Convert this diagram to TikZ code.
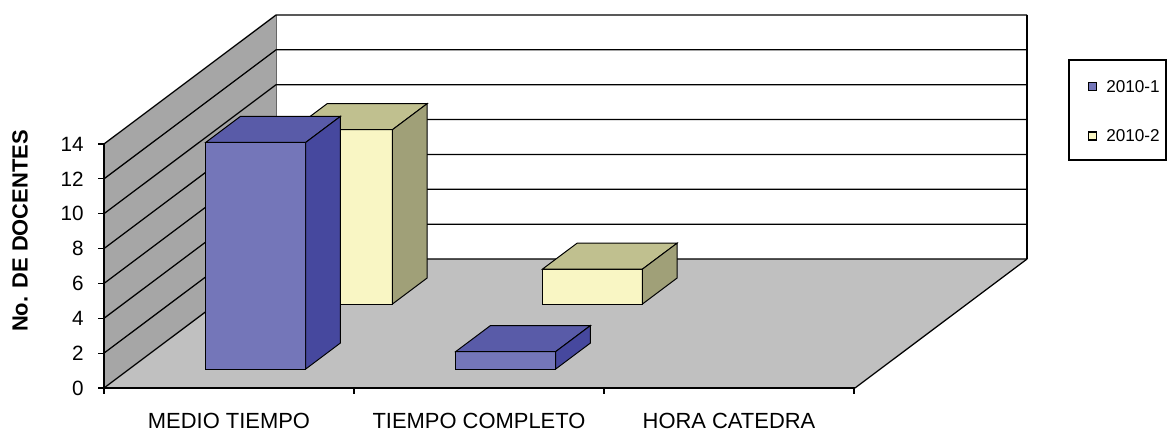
\documentclass[tikz,border=0pt]{standalone}
\usepackage{fontspec}
\setmainfont{Liberation Sans}
\usepackage{tikz}
\usetikzlibrary{positioning}
\definecolor{bluefront}{RGB}{116,118,185}
\definecolor{bluetop}{RGB}{89,91,168}
\definecolor{blueside}{RGB}{70,72,158}
\definecolor{yelfront}{RGB}{249,246,196}
\definecolor{yeltop}{RGB}{192,192,143}
\definecolor{yelside}{RGB}{160,160,120}
\definecolor{wallgray}{RGB}{166,166,166}
\definecolor{floorgray}{RGB}{192,192,192}
\tikzstyle{gridline} = [line width=0.9pt]
\tikzstyle{barline} = [line width=0.7pt, draw=black]
\tikzstyle{ticklabel} = [inner sep=0pt, font=\fontsize{14.7}{17}\selectfont]
\tikzstyle{catlabel} = [inner sep=0pt, font=\fontsize{15.6}{18}\selectfont]
\tikzstyle{legendtext} = [inner sep=0pt, anchor=west, font=\fontsize{12.2}{14}\selectfont]
\tikzstyle{legendmark} = [draw=black, line width=0.8pt, minimum size=0.2cm, inner sep=0pt]
\def\u{17.43}
\newcommand{\colbar}[6]{%
	\filldraw[barline, fill=#4] (#1,0,#2) -- (#1+100,0,#2) -- (#1+100,#3*\u,#2) -- (#1,#3*\u,#2) -- cycle;
	\filldraw[barline, fill=#5] (#1,#3*\u,#2) -- (#1+100,#3*\u,#2) -- (#1+100,#3*\u,#2+26) -- (#1,#3*\u,#2+26) -- cycle;
	\filldraw[barline, fill=#6] (#1+100,0,#2) -- (#1+100,0,#2+26) -- (#1+100,#3*\u,#2+26) -- (#1+100,#3*\u,#2) -- cycle;
}

\begin{document}
\begin{tikzpicture}[x=0.025cm, y=0.025cm, z={(0.033333cm,0.025cm)}]
	\useasboundingbox (-104,-44) rectangle (1064,388);
	\fill[white] (0,0,129) rectangle (751,14*\u,129);
	\fill[wallgray] (0,0,0) -- (0,0,129) -- (0,14*\u,129) -- (0,14*\u,0) -- cycle;
	\fill[floorgray] (0,0,0) -- (751,0,0) -- (751,0,129) -- (0,0,129) -- cycle;
	\draw[gray!80!black, line width=0.5pt] (0,0,129) -- (0,14*\u,129);
	\foreach \v in {0,2,...,14}
		\draw[gridline] (0,\v*\u,0) -- (0,\v*\u,129) -- (751,\v*\u,129);
	\draw[gridline] (751,0,129) -- (751,14*\u,129);
	\draw[gridline] (751,0,0) -- (751,0,129);
	\draw[gridline] (0,14*\u,0) -- (0,0,0) -- (751,0,0);
	\foreach \v in {0,2,...,14} {
		\draw[gridline] (-6,\v*\u) -- (0,\v*\u);
		\node[ticklabel, anchor=east] (t\v) at (-20,\v*\u) {\v};
	}
	\foreach \i in {0,...,3}
		\draw[gridline] (250*\i,0) -- (250*\i,-6);
	\colbar{76.4}{84}{10}{yelfront}{yeltop}{yelside}
	\colbar{326.4}{84}{2}{yelfront}{yeltop}{yelside}
	\colbar{76.4}{19}{13}{bluefront}{bluetop}{blueside}
	\colbar{326.4}{19}{1}{bluefront}{bluetop}{blueside}
	\node[catlabel] (medio) at (125,-33) {MEDIO TIEMPO};
	\node[catlabel] (completo) at (375,-33) {TIEMPO COMPLETO};
	\node[catlabel] (hora) at (625,-33) {HORA CATEDRA};
	\node[inner sep=0pt, rotate=90, font=\bfseries\fontsize{15.6}{18}\selectfont] (ytitle) at (-84,157) {No. DE DOCENTES};
	\draw[line width=0.9pt] (965,228) rectangle (1062,328);
	\node[legendmark, fill=bluefront] (m1) at (988.5,301.5) {};
	\node[legendtext] (l1) at (1002,301.5) {2010-1};
	\node[legendmark, fill=yelfront] (m2) at (988.5,252) {};
	\node[legendtext] (l2) at (1002,252) {2010-2};
\end{tikzpicture}
\end{document}
